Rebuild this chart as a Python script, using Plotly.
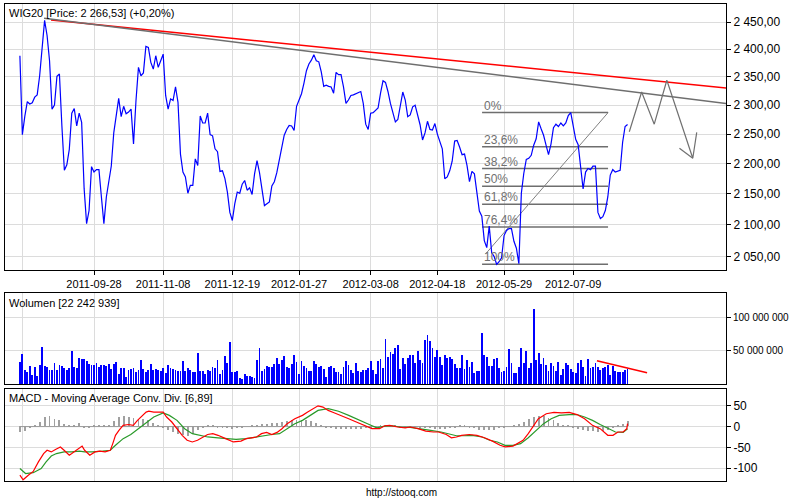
import math
import plotly.graph_objects as go

# ---------------- data ----------------
price = [2388,2249,2281,2306,2302,2304,2314,2318,2352,2403,2453,2425,2379,2293,2300,2351,2355,2264,2189,2198,
         2224,2286,2294,2264,2286,2270,2159,2102,2123,2195,2186,2190,2190,2145,2102,2145,2171,2196,2252,2283,
         2312,2280,2298,2285,2288,2293,2233,2308,2367,2352,2357,2405,2403,2376,2364,2388,2367,2379,2391,2317,
         2293,2311,2308,2332,2305,2216,2186,2178,2151,2164,2164,2208,2197,2281,2269,2269,2286,2249,2247,2225,
         2220,2187,2188,2175,2153,2120,2107,2134,2153,2151,2166,2172,2156,2160,2149,2183,2205,2185,2160,2131,
         2134,2137,2163,2170,2185,2204,2226,2248,2258,2265,2264,2256,2298,2308,2320,2339,2361,2373,2380,2390,
         2379,2377,2359,2333,2335,2333,2332,2321,2358,2354,2354,2332,2303,2309,2317,2318,2320,2321,2324,2303,
         2267,2258,2286,2287,2291,2295,2321,2343,2340,2324,2303,2286,2271,2275,2298,2323,2309,2280,2283,2297,
         2300,2281,2266,2240,2252,2272,2258,2257,2268,2250,2237,2225,2175,2178,2188,2204,2238,2239,2228,2215,
         2216,2197,2170,2187,2183,2156,2122,2114,2075,2064,2098,2056,2050,2038,2042,2048,2083,2091,2094,2094,
         2074,2063,2039,2151,2184,2207,2209,2214,2231,2242,2271,2259,2248,2231,2215,2233,2261,2267,2263,2269,
         2264,2269,2282,2287,2264,2241,2232,2194,2158,2186,2192,2190,2196,2196,2120,2110,2113,2123,2145,2181,
         2190,2186,2187,2189,2236,2263,2266.53]

vol_mln = [32,45,21,18,27,13,25,12,28,55,27,25,21,21,31,21,28,26,23,20,
           23,49,25,24,39,37,37,34,30,28,28,31,25,28,28,26,30,22,29,32,
           15,23,24,10,20,22,23,17,20,36,22,17,20,30,21,22,20,19,23,16,
           28,23,22,20,19,19,34,19,23,20,17,17,46,19,19,15,21,19,25,23,
           36,15,21,42,31,62,17,17,19,8,7,15,12,11,10,8,36,53,19,22,
           26,25,25,30,38,30,36,42,25,24,30,43,33,15,34,27,23,19,19,34,
           29,25,
           26,22,10,25,27,24,18,18,15,25,34,28,21,16,31,19,18,21,21,24,
           34,21,15,34,37,24,67,40,48,45,54,58,22,39,30,39,43,43,31,49,
           36,31,66,73,64,54,40,51,40,28,43,39,40,37,30,24,24,43,22,36,
           25,33,16,19,19,76,43,40,27,27,37,39,24,18,19,25,52,31,16,16,
           25,54,31,49,24,31,112,36,46,30,39,28,19,31,27,19,33,13,22,31,
           28,22,18,16,31,36,25,12,37,24,25,31,25,21,24,25,28,13,27,19,
           18,18,18,20,22]

macd_day = [0,1.3,3.4,5.4,7.5,9.6,11.0,12.7,14.4,16.4,17.9,20.0,21.0,23.1,25.2,26.2,28.3,30.4,32.4,34.5,
            36.6,37.6,38.7,40.1,41.8,43.9,45.9,47.6,49.0,51.1,52.2,54.2,58.0,59.4,61.5,63.6,65.7,67.7,69.8,71.9,
            74.0,76.0,78.1,80.2,83.3,86.4,89.5,91.6,93.7,95.8,97.8,99.9,102.0,104.1,106.1,108.2,111.3,114.4,116.5,118.6,
            120.7,122.7,124.8,126.9,130.0,133.1,136.2,139.4,142.5,145.6,147.7,149.7,152.9,156.0,158.0,161.2,164.3,167.4,169.5,172.6,
            174.7,176.7,178.8,181.9,185.0,188.1,191.3,194.4,196.4,199.6,201.6,203.7,205.8,207.9,209.9,213.1,216.2,219.3,222.4,225.5,
            228.6,231.8,234.9,238.0,240.1,242.1,244.2,245.7,246]
macd = [-117,-128,-117,-108,-85,-65,-57,-61,-55,-49,-57,-69,-65,-57,-47,-57,-69,-61,-59,-61,
        -57,-41,-21,-9,3,5,3,15,23,35,37,35,35,23,11,-5,-21,-33,-37,-33,
        -25,-19,-17,-21,-29,-37,-35,-29,-27,-25,-17,-14,-19,-14,-5,7,19,27,35,43,
        50,47,39,34,27,19,11,2,-5,-5,2,3,-1,-3,-1,-5,-11,-13,-13,-19,
        -27,-25,-21,-19,-21,-27,-35,-45,-49,-47,-41,-33,-17,3,19,31,34,33,34,29,
        19,3,-5,-21,-21,-13,-13,-5,7]
signal_day = [0,2.3,5.4,8.6,10.6,12.7,14.8,17.9,21.0,24.1,26.2,29.3,33.5,36.6,38.7,41.8,44.9,48.0,51.1,54.2,
              58.0,60.5,63.6,66.7,69.8,72.9,76.0,80.2,83.3,87.5,91.6,95.8,98.9,102.0,105.1,108.2,111.3,114.4,117.6,120.7,
              124.8,129.0,133.1,137.3,141.4,144.5,147.7,150.8,153.9,158.0,162.2,166.3,170.5,173.6,176.7,179.8,183.0,187.1,190.2,193.3,
              196.4,199.6,202.7,205.8,208.9,212.0,215.1,218.3,222.4,225.5,228.6,231.8,234.9,238.0,241.1,244.2,246]
signal = [-101,-113,-111,-101,-85,-71,-65,-61,-61,-59,-61,-61,-59,-57,-45,-29,-19,-5,11,23,
          33,27,15,-5,-17,-21,-25,-27,-29,-31,-29,-25,-21,-19,-17,-6,7,15,27,39,
          43,37,27,15,5,-3,1,2,-1,-2,-5,-9,-13,-17,-22,-22,-21,-25,-33,-37,
          -45,-45,-41,-27,-11,7,19,27,29,29,23,15,5,-5,-13,-14,-5]
hist_day = list(range(0, 247, 2))
hist = [-14,-12,-5,2,10,22,24,18,14,6,2,4,8,-2,-4,2,3,2,4,12,
        22,25,22,20,18,17,14,8,4,-2,-8,-14,-18,-22,-24,-18,-10,-2,4,2,
        -2,-3,-5,-6,-4,-2,0,1,3,5,6,8,8,10,12,14,16,16,14,12,
        8,2,-3,-5,-6,-7,-7,-7,-6,-6,-5,-4,-3,2,3,2,1,-2,-3,-2,
        -1,-3,-4,-4,-6,-7,-6,-5,-4,2,1,-2,-5,-8,-9,-9,-8,-5,-3,0,
        2,6,10,18,22,24,24,20,14,8,4,2,-2,-6,-10,-12,-12,-14,-12,-8,
        -4,2,6,12]

date_pos = [30, 58, 86, 113, 142, 169, 196, 224]
date_labels = ["2011-09-28", "2011-11-08", "2011-12-19", "2012-01-27", "2012-03-08",
               "2012-04-18", "2012-05-29", "2012-07-09"]
first_grid = [1]

price_ticks = [2050, 2100, 2150, 2200, 2250, 2300, 2350, 2400, 2450]
price_tick_text = ["2 050,00", "2 100,00", "2 150,00", "2 200,00", "2 250,00",
                   "2 300,00", "2 350,00", "2 400,00", "2 450,00"]
vol_ticks = [50e6, 100e6]
vol_tick_text = ["50 000 000", "100 000 000"]
macd_ticks = [-100, -50, 0, 50]
macd_tick_text = ["-100", "-50", "0", "50"]

# drawn analysis lines (anchor points in data units)
red_trend_x, red_trend_y = [12.6, 285.9], [2453.7, 2330]
gray_trend_x, gray_trend_y = [9.8, 285.9], [2457, 2303]
zigzag_x = [246.7, 251.7, 256.8, 261.9, 272.4, 274.0]
zigzag_y = [2254, 2323, 2267, 2344, 2209, 2253]
arrow_x, arrow_y = [267.0, 272.4], [2226, 2209]
fib_high, fib_low = 2287, 2038
fib_levels = [0, 23.6, 38.2, 50, 61.8, 76.4, 100]
fib_labels = ["0%", "23,6%", "38,2%", "50%", "61,8%", "76,4%", "100%"]
fib_x0, fib_x1 = 187.1, 238.1
fib_diag_x, fib_diag_y = [188.5, 238.1], [2054, 2287]
vol_trend_x, vol_trend_y = [233.6, 253.9], [35e6, 17e6]

# ---------------- figure ----------------
days = list(range(len(price)))
vol = [v * 1e6 for v in vol_mln]
GRID = "#dcdcdc"
FIBC = "#6e6e6e"

fig = go.Figure()

fig.add_trace(go.Scatter(x=red_trend_x, y=red_trend_y, mode="lines",
                         line=dict(color="#ff0000", width=1.5), xaxis="x", yaxis="y"))
fig.add_trace(go.Scatter(x=gray_trend_x, y=gray_trend_y, mode="lines",
                         line=dict(color="#6e6e6e", width=1.5), xaxis="x", yaxis="y"))
for lv in fib_levels:
    yv = fib_high - (fib_high - fib_low) * lv / 100
    fig.add_trace(go.Scatter(x=[fib_x0, fib_x1], y=[yv, yv], mode="lines",
                             line=dict(color=FIBC, width=1.5), xaxis="x", yaxis="y"))
fig.add_trace(go.Scatter(x=fib_diag_x, y=fib_diag_y, mode="lines",
                         line=dict(color="#808080", width=1), xaxis="x", yaxis="y"))
fig.add_trace(go.Scatter(x=zigzag_x, y=zigzag_y, mode="lines",
                         line=dict(color="#707070", width=1.2), xaxis="x", yaxis="y"))
fig.add_trace(go.Scatter(x=arrow_x, y=arrow_y, mode="lines",
                         line=dict(color="#707070", width=1.2), xaxis="x", yaxis="y"))
fig.add_trace(go.Scatter(x=days, y=price, mode="lines",
                         line=dict(color="#0000ff", width=1.2), xaxis="x", yaxis="y"))

fig.add_trace(go.Bar(x=days, y=vol, marker=dict(color="#0000ff", line=dict(width=0)),
                     width=0.34, xaxis="x2", yaxis="y2"))
fig.add_trace(go.Scatter(x=vol_trend_x, y=vol_trend_y, mode="lines",
                         line=dict(color="#ff0000", width=1.5), xaxis="x2", yaxis="y2"))

fig.add_trace(go.Bar(x=hist_day, y=hist, marker=dict(color="#a0a0a0", line=dict(width=0)),
                     width=0.36, xaxis="x3", yaxis="y3"))
fig.add_trace(go.Scatter(x=[days[0], days[-1]], y=[0, 0], mode="lines",
                         line=dict(color="#9a9a9a", width=1), xaxis="x3", yaxis="y3"))
fig.add_trace(go.Scatter(x=signal_day, y=signal, mode="lines",
                         line=dict(color="#2a9a2a", width=1.2), xaxis="x3", yaxis="y3"))
fig.add_trace(go.Scatter(x=macd_day, y=macd, mode="lines",
                         line=dict(color="#ff0000", width=1.2), xaxis="x3", yaxis="y3"))

ann = []
for lv, lab in zip(fib_levels, fib_labels):
    yv = fib_high - (fib_high - fib_low) * lv / 100
    ann.append(dict(x=fib_x0, y=math.log10(yv), xref="x", yref="y", text=lab,
                    showarrow=False, xanchor="left", yanchor="bottom", yshift=-2,
                    font=dict(size=12, color="#707070")))

PW, PH, L, T = 721, 477, 5, 4
def px(xp): return (xp - L) / PW
def py(yp): return (T + PH - yp) / PH

ann += [
    dict(x=px(7), y=py(13), xref="paper", yref="paper", text="WIG20 [Price: 2 266,53] (+0,20%)",
         showarrow=False, xanchor="left", yanchor="middle", font=dict(size=11)),
    dict(x=px(7), y=py(303), xref="paper", yref="paper", text="Wolumen [22 242 939]",
         showarrow=False, xanchor="left", yanchor="middle", font=dict(size=11)),
    dict(x=px(7), y=py(398), xref="paper", yref="paper", text="MACD - Moving Average Conv. Div. [6,89]",
         showarrow=False, xanchor="left", yanchor="middle", font=dict(size=11)),
    dict(x=px(401), y=py(492), xref="paper", yref="paper", text="http://stooq.com",
         showarrow=False, xanchor="center", yanchor="middle", font=dict(size=10)),
]

xr = [-6.03, 285.85]
common_x = dict(range=xr, showline=True, linecolor="black", linewidth=1, mirror=True,
                showgrid=True, gridcolor=GRID, gridwidth=1, zeroline=False, automargin=False)
common_y = dict(side="right", showline=True, linecolor="black", linewidth=1, mirror=True,
                showgrid=True, gridcolor=GRID, gridwidth=1, zeroline=False, automargin=False,
                ticks="outside", ticklen=4, tickcolor="black", tickmode="array")

fig.update_layout(
    template="none",
    width=800, height=500, margin=dict(l=L, r=800 - L - PW, t=T, b=500 - T - PH, autoexpand=False),
    paper_bgcolor="white", plot_bgcolor="white", showlegend=False, bargap=0, hovermode=False,
    font=dict(family="Liberation Sans, Arial, sans-serif", size=11, color="black"),
    annotations=ann,
    xaxis=dict(**common_x, domain=[0, 1], anchor="y", tickmode="array", tickvals=date_pos,
               ticktext=date_labels, ticks="outside", ticklen=4, tickcolor="black",
               tickfont=dict(size=11),
               minor=dict(tickvals=first_grid, showgrid=True, gridcolor=GRID, ticks="")),
    yaxis=dict(**common_y, domain=[py(270), 1], anchor="x", type="log",
               range=[3.30732, 3.39511], tickvals=price_ticks, ticktext=price_tick_text,
               tickfont=dict(size=12)),
    xaxis2=dict(**common_x, domain=[0, 1], anchor="y2", tickmode="array",
                tickvals=first_grid + date_pos, showticklabels=False, ticks=""),
    yaxis2=dict(**common_y, domain=[py(384), py(293.3)], anchor="x2", range=[0, 136e6],
                tickvals=vol_ticks, ticktext=vol_tick_text, tickfont=dict(size=10)),
    xaxis3=dict(**common_x, domain=[0, 1], anchor="y3", tickmode="array",
                tickvals=first_grid + date_pos, showticklabels=False, ticks=""),
    yaxis3=dict(**common_y, domain=[py(480.7), py(389.3)], anchor="x3", range=[-130.3, 89.8],
                tickvals=macd_ticks, ticktext=macd_tick_text, tickfont=dict(size=12)),
)

fig.write_html("out.html", config={"displayModeBar": False},
               post_script="document.body.style.margin='0px';")
